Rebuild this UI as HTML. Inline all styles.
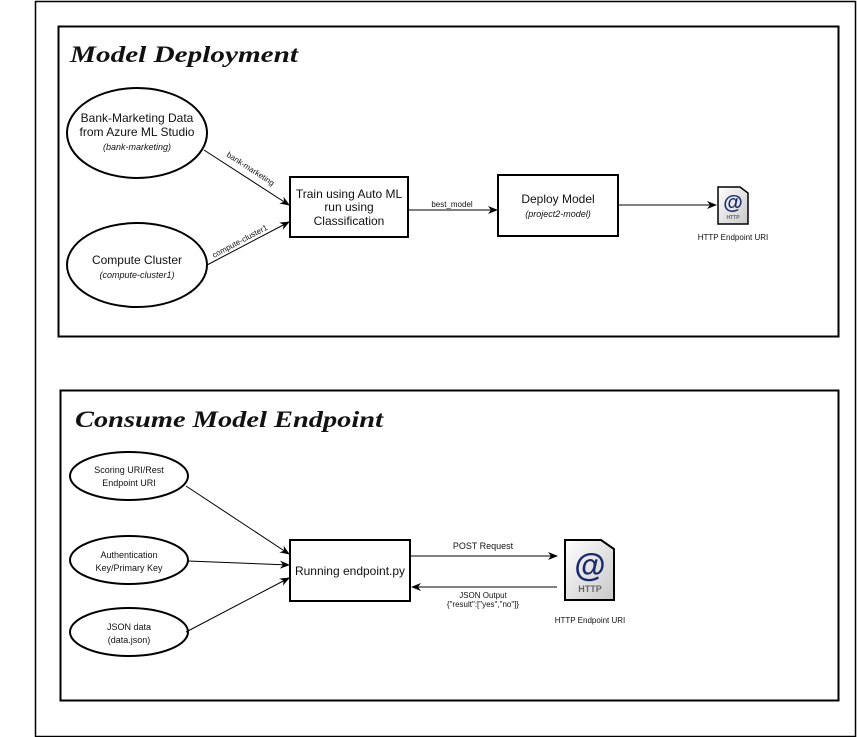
<!DOCTYPE html>
<html><head><style>body{margin:0;background:#fff}svg{display:block}text{font-family:"Liberation Sans",sans-serif;fill:#111}</style></head><body>
<svg width="857" height="737" viewBox="0 0 857 737" xmlns="http://www.w3.org/2000/svg">
<defs>
<marker id="a" markerWidth="10" markerHeight="10" refX="9" refY="5" orient="auto" markerUnits="userSpaceOnUse"><path d="M0,1 L10,5 L0,9 L3,5 z" fill="#000"/></marker>
<linearGradient id="g" x1="0" y1="0" x2="1" y2="1"><stop offset="0" stop-color="#fff"/><stop offset="1" stop-color="#c8c8c8"/></linearGradient>
</defs>
<rect x="35.5" y="1.5" width="820" height="735" fill="none" stroke="#000" stroke-width="1.5"/>
<rect x="58.5" y="26.5" width="780" height="310" fill="none" stroke="#000" stroke-width="2"/>
<rect x="60.5" y="390.5" width="778" height="310" fill="none" stroke="#000" stroke-width="2"/>
<text x="70" y="62" font-size="23" font-weight="bold" font-style="italic" textLength="228" lengthAdjust="spacingAndGlyphs" style="font-family:'Liberation Serif',serif">Model Deployment</text>
<text x="75" y="427" font-size="23" font-weight="bold" font-style="italic" textLength="308" lengthAdjust="spacingAndGlyphs" style="font-family:'Liberation Serif',serif">Consume Model Endpoint</text>

<ellipse cx="137" cy="133" rx="70" ry="45" fill="#fff" stroke="#000" stroke-width="2"/>
<text x="137" y="122" font-size="12" text-anchor="middle">Bank-Marketing Data</text>
<text x="137" y="136" font-size="12" text-anchor="middle">from Azure ML Studio</text>
<text x="137" y="150" font-size="9" font-style="italic" text-anchor="middle">(bank-marketing)</text>
<ellipse cx="137" cy="265" rx="70" ry="42" fill="#fff" stroke="#000" stroke-width="2"/>
<text x="137" y="264" font-size="12" text-anchor="middle">Compute Cluster</text>
<text x="137" y="278" font-size="9" font-style="italic" text-anchor="middle">(compute-cluster1)</text>
<rect x="290" y="177" width="118" height="60" fill="#fff" stroke="#000" stroke-width="2"/>
<text x="349" y="198" font-size="12" text-anchor="middle">Train using Auto ML</text>
<text x="349" y="211" font-size="12" text-anchor="middle">run using</text>
<text x="349" y="225" font-size="12" text-anchor="middle">Classification</text>
<line x1="204" y1="150" x2="289" y2="205" stroke="#000" marker-end="url(#a)"/>
<text x="0" y="0" font-size="8" fill="#444" transform="translate(226,156) rotate(33)">bank-marketing</text>
<line x1="207" y1="265" x2="289" y2="222" stroke="#000" marker-end="url(#a)"/>
<text x="0" y="0" font-size="8" fill="#444" transform="translate(214,258) rotate(-28)">compute-cluster1</text>
<line x1="408" y1="210" x2="497" y2="210" stroke="#000" marker-end="url(#a)"/>
<text x="452" y="207" font-size="8" text-anchor="middle">best_model</text>
<rect x="498" y="175" width="120" height="61" fill="#fff" stroke="#000" stroke-width="2"/>
<text x="558" y="203" font-size="12" text-anchor="middle">Deploy Model</text>
<text x="558" y="217" font-size="9" font-style="italic" text-anchor="middle">(project2-model)</text>
<line x1="618" y1="205" x2="716" y2="205" stroke="#000" marker-end="url(#a)"/>
<g transform="translate(718,187)"><path d="M0,0 H22 L30,6 V37 H0 Z" fill="url(#g)" stroke="#000" stroke-width="1.5"/><text x="15" y="22" font-size="20" font-weight="bold" text-anchor="middle" style="fill:#1a2a6c">@</text><text x="15" y="32" font-size="5" font-weight="bold" text-anchor="middle" style="fill:#666">HTTP</text></g>
<text x="733" y="240" font-size="8" text-anchor="middle">HTTP Endpoint URI</text>

<ellipse cx="129" cy="476" rx="59" ry="24" fill="#fff" stroke="#000" stroke-width="2"/>
<text x="129" y="473" font-size="9" text-anchor="middle">Scoring URI/Rest</text>
<text x="129" y="486" font-size="9" text-anchor="middle">Endpoint URI</text>
<ellipse cx="129" cy="560" rx="59" ry="24" fill="#fff" stroke="#000" stroke-width="2"/>
<text x="129" y="558" font-size="9" text-anchor="middle">Authentication</text>
<text x="129" y="571" font-size="9" text-anchor="middle">Key/Primary Key</text>
<ellipse cx="129" cy="632" rx="59" ry="24" fill="#fff" stroke="#000" stroke-width="2"/>
<text x="129" y="630" font-size="9" text-anchor="middle">JSON data</text>
<text x="129" y="643" font-size="9" text-anchor="middle">(data.json)</text>
<line x1="186" y1="486" x2="289" y2="554" stroke="#000" marker-end="url(#a)"/>
<line x1="188" y1="561" x2="289" y2="565" stroke="#000" marker-end="url(#a)"/>
<line x1="186" y1="632" x2="289" y2="578" stroke="#000" marker-end="url(#a)"/>
<rect x="290" y="540" width="120" height="61" fill="#fff" stroke="#000" stroke-width="2"/>
<text x="350" y="575" font-size="12" text-anchor="middle">Running endpoint.py</text>
<line x1="410" y1="556" x2="557" y2="556" stroke="#000" marker-end="url(#a)"/>
<text x="483" y="549" font-size="9" text-anchor="middle">POST Request</text>
<line x1="557" y1="587" x2="412" y2="587" stroke="#000" marker-end="url(#a)"/>
<text x="483" y="598" font-size="8" text-anchor="middle">JSON Output</text>
<text x="483" y="607" font-size="8" text-anchor="middle">{"result":["yes","no"]}</text>
<g transform="translate(565,540)"><path d="M0,0 H36 L49,9 V60 H0 Z" fill="url(#g)" stroke="#000" stroke-width="2"/><text x="25" y="36" font-size="32" font-weight="bold" text-anchor="middle" style="fill:#1a2a6c">@</text><text x="25" y="52" font-size="9" font-weight="bold" text-anchor="middle" style="fill:#666">HTTP</text></g>
<text x="590" y="623" font-size="8" text-anchor="middle">HTTP Endpoint URI</text>
</svg>
</body></html>
